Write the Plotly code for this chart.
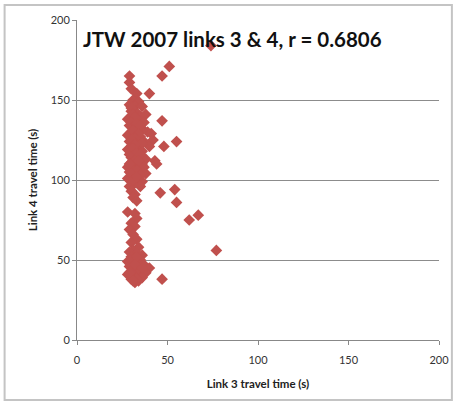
import plotly.graph_objects as go

# Link 3 travel time (s)
link3 = [
    29, 29, 30, 33, 40, 31, 34, 29, 32, 36, 30, 33, 35, 38, 28, 31, 34, 37, 29, 32,
    36, 30, 33, 39, 28, 31, 35, 29, 33, 37, 42, 30, 34, 40, 28, 32, 36, 29, 31, 34,
    38, 43, 44, 30, 33, 36, 28, 31, 35, 29, 32, 38, 30, 34, 28, 33, 36, 31, 29, 35,
    30, 32, 31, 33, 28, 32, 33, 30, 32, 29, 31, 33, 30, 34, 31, 29, 33, 36, 30, 32,
    35, 28, 31, 34, 37, 29, 32, 40, 30, 35, 38, 28, 31, 33, 36, 30, 32, 34,
    30, 31, 32, 30, 33, 35, 31, 34, 32, 30, 36, 32, 31, 33, 35, 30, 32, 34, 37, 29,
    33, 30, 35, 31, 33, 41,
    30, 33, 31, 34, 29, 32, 36, 33, 31,
    74, 51, 47, 47, 55, 48, 46, 54, 55, 62, 67, 77, 47,
]
# Link 4 travel time (s)
link4 = [
    165, 161, 157, 154, 154, 150, 149, 147, 146, 146, 143, 142, 140, 141, 138, 138, 137, 136, 134, 133,
    132, 130, 130, 130, 128, 127, 127, 124, 124, 124, 125, 121, 121, 121, 119, 118, 118, 116, 114, 115,
    113, 112, 110, 111, 110, 110, 108, 107, 107, 105, 104, 104, 102, 101, 101, 99, 99, 97, 96, 96,
    93, 91, 89, 87, 80, 79, 76, 73, 71, 69, 66, 63, 61, 58, 56, 55, 54, 53, 52, 51,
    50, 49, 48, 48, 47, 46, 45, 45, 43, 43, 42, 41, 40, 40, 39, 38, 36, 37,
    145, 141, 139, 136, 135, 134, 131, 129, 126, 125, 123, 122, 120, 117, 116, 114, 112, 112, 108, 110,
    106, 104, 103, 100, 102, 129,
    50, 52, 44, 45, 42, 47, 45, 38, 37,
    184, 171, 165, 137, 124, 121, 92, 94, 86, 75, 78, 56, 38,
]

x_ticks = [0, 50, 100, 150, 200]
y_ticks = [0, 50, 100, 150, 200]

fig = go.Figure()
fig.add_trace(go.Scatter(
    x=link3, y=link4, mode="markers",
    marker=dict(symbol="diamond", size=9, color="#C0504D",
                line=dict(width=0)),
    showlegend=False,
))

font_fam = "Lato, 'Open Sans', sans-serif"

fig.update_layout(
    width=461, height=406,
    margin=dict(l=77, r=19, t=20, b=66),
    paper_bgcolor="white", plot_bgcolor="white",
    font=dict(family=font_fam, color="#222222"),
    xaxis=dict(
        range=[0, 200], tickvals=x_ticks, showgrid=False, zeroline=False,
        showline=True, linecolor="#888888", linewidth=1,
        ticks="outside", ticklen=4, tickcolor="#888888",
        ticklabelstandoff=6,
        tickfont=dict(size=11, color="#333333"),
        title=dict(text="<b>Link 3 travel time (s)</b>", font=dict(size=11.5, color="#222222"), standoff=14),
        fixedrange=True,
    ),
    yaxis=dict(
        range=[0, 200], tickvals=y_ticks, showgrid=True, gridcolor="#8c8c8c", gridwidth=1,
        zeroline=False, showline=True, linecolor="#888888", linewidth=1,
        ticks="outside", ticklen=4, tickcolor="#888888",
        tickfont=dict(size=11, color="#333333"),
        title=dict(text="<b>Link 4 travel time (s)</b>", font=dict(size=11.5, color="#222222"), standoff=10),
        fixedrange=True,
    ),
    annotations=[dict(
        text="<b>JTW 2007 links 3 &amp; 4, r = 0.6806</b>",
        xref="paper", yref="paper", x=0.012, y=0.985, xanchor="left", yanchor="top",
        showarrow=False, font=dict(size=20.5, color="#111111", family=font_fam),
    )],
    shapes=[dict(
        type="rect", xref="paper", yref="paper",
        x0=(4 - 77) / 365, x1=(455 - 77) / 365,
        y0=(340 - 400) / 320, y1=(340 - 5) / 320,
        line=dict(color="#c4c4c4", width=2), layer="below",
    )],
)

fig.write_html("out.html", config={"displayModeBar": False},
               post_script="document.body.style.margin='0';")
